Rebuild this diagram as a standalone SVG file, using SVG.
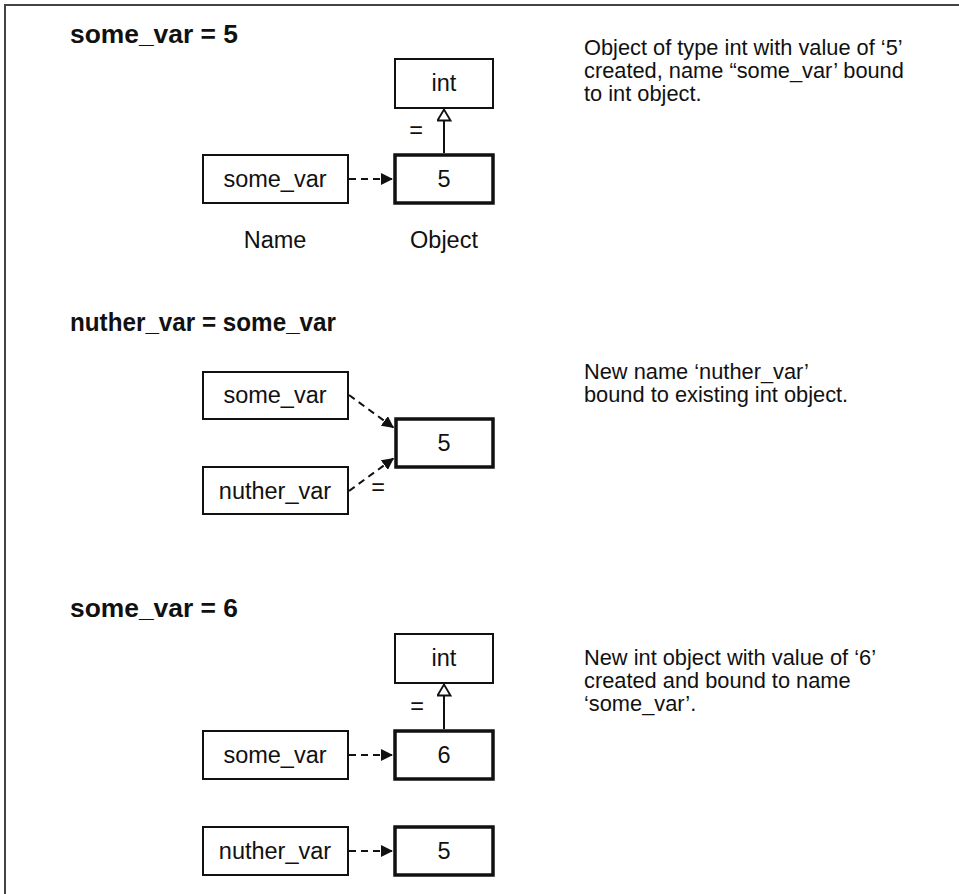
<svg xmlns="http://www.w3.org/2000/svg" width="959" height="894" viewBox="0 0 959 894">
<defs>
<style>
.frame{fill:none;stroke:#444;stroke-width:2}
.box{fill:#fff;stroke:#111;stroke-width:2}
.obj{fill:#fff;stroke:#111;stroke-width:3.5}
.h{font-family:"Liberation Sans",Arial,sans-serif;font-weight:bold;font-size:25px;fill:#111}
.t{font-family:"Liberation Sans",Arial,sans-serif;font-size:23.5px;fill:#111;text-anchor:middle}
.d{font-family:"Liberation Sans",Arial,sans-serif;font-size:21.8px;fill:#111}
.dash{fill:none;stroke:#111;stroke-width:2;stroke-dasharray:7,5}
.solid{fill:none;stroke:#111;stroke-width:2}
</style>
<marker id="fa" viewBox="0 0 12 12" refX="12" refY="6" markerWidth="12" markerHeight="12" markerUnits="userSpaceOnUse" orient="auto">
<path d="M0,0 L12,6 L0,12 Z" fill="#111"/>
</marker>
<marker id="ha" viewBox="0 0 13 15" refX="12.5" refY="7.5" markerWidth="13" markerHeight="15" markerUnits="userSpaceOnUse" orient="auto">
<path d="M1,1 L12,7.5 L1,14 Z" fill="#fff" stroke="#111" stroke-width="1.8"/>
</marker>
</defs>
<rect width="959" height="894" fill="#fff"/>
<path class="frame" d="M5,894 L5,5 L959,5"/>

<!-- Section 1 -->
<text class="h" x="70" y="43" textLength="168" lengthAdjust="spacingAndGlyphs">some_var = 5</text>
<g id="s1-int"><rect class="box" x="395" y="59" width="98" height="49"/><text class="t" x="444" y="91">int</text></g>
<g id="s1-obj5"><rect class="obj" x="395" y="155" width="98" height="48"/><text class="t" x="444" y="187">5</text></g>
<g id="s1-name"><rect class="box" x="203" y="155" width="145" height="48"/><text class="t" x="275" y="187">some_var</text></g>
<text class="t" x="275" y="248">Name</text>
<text class="t" x="444" y="248">Object</text>
<g id="s1-desc">
<text class="d" x="584" y="55">Object of type int with value of ‘5’</text>
<text class="d" x="584" y="78">created, name “some_var’ bound</text>
<text class="d" x="584" y="101">to int object.</text>
</g>

<!-- Section 2 -->
<text class="h" x="70" y="331" textLength="266" lengthAdjust="spacingAndGlyphs">nuther_var = some_var</text>
<g id="s2-some"><rect class="box" x="203" y="372" width="145" height="47"/><text class="t" x="275" y="403">some_var</text></g>
<g id="s2-obj5"><rect class="obj" x="396" y="419" width="97" height="48"/><text class="t" x="444" y="451">5</text></g>
<g id="s2-nuther"><rect class="box" x="203" y="467" width="145" height="47"/><text class="t" x="275" y="499">nuther_var</text></g>
<g id="s2-desc">
<text class="d" x="584" y="379">New name ‘nuther_var’</text>
<text class="d" x="584" y="402">bound to existing int object.</text>
</g>

<!-- Section 3 -->
<text class="h" x="70" y="617" textLength="168" lengthAdjust="spacingAndGlyphs">some_var = 6</text>
<g id="s3-int"><rect class="box" x="395" y="634" width="98" height="49"/><text class="t" x="444" y="666">int</text></g>
<g id="s3-obj6"><rect class="obj" x="395" y="731" width="98" height="48"/><text class="t" x="444" y="763">6</text></g>
<g id="s3-some"><rect class="box" x="203" y="731" width="145" height="48"/><text class="t" x="275" y="763">some_var</text></g>
<g id="s3-nuther"><rect class="box" x="203" y="827" width="145" height="48"/><text class="t" x="275" y="859">nuther_var</text></g>
<g id="s3-obj5"><rect class="obj" x="395" y="827" width="98" height="48"/><text class="t" x="444" y="859">5</text></g>
<g id="s3-desc">
<text class="d" x="584" y="665">New int object with value of ‘6’</text>
<text class="d" x="584" y="688">created and bound to name</text>
<text class="d" x="584" y="711">‘some_var’.</text>
</g>

<!-- Connectors -->
<g id="connectors">
<line class="dash" x1="349" y1="179" x2="393" y2="179" marker-end="url(#fa)"/>
<line class="solid" x1="444" y1="153" x2="444" y2="109" marker-end="url(#ha)"/>
<text class="t" x="416" y="138">=</text>
<line class="dash" x1="349" y1="395" x2="394" y2="428" marker-end="url(#fa)"/>
<line class="dash" x1="349" y1="491" x2="394" y2="458" marker-end="url(#fa)"/>
<text class="t" x="378" y="495">=</text>
<line class="dash" x1="349" y1="755" x2="393" y2="755" marker-end="url(#fa)"/>
<line class="solid" x1="444" y1="729" x2="444" y2="684" marker-end="url(#ha)"/>
<text class="t" x="417" y="714">=</text>
<line class="dash" x1="349" y1="851" x2="393" y2="851" marker-end="url(#fa)"/>
</g>
</svg>
